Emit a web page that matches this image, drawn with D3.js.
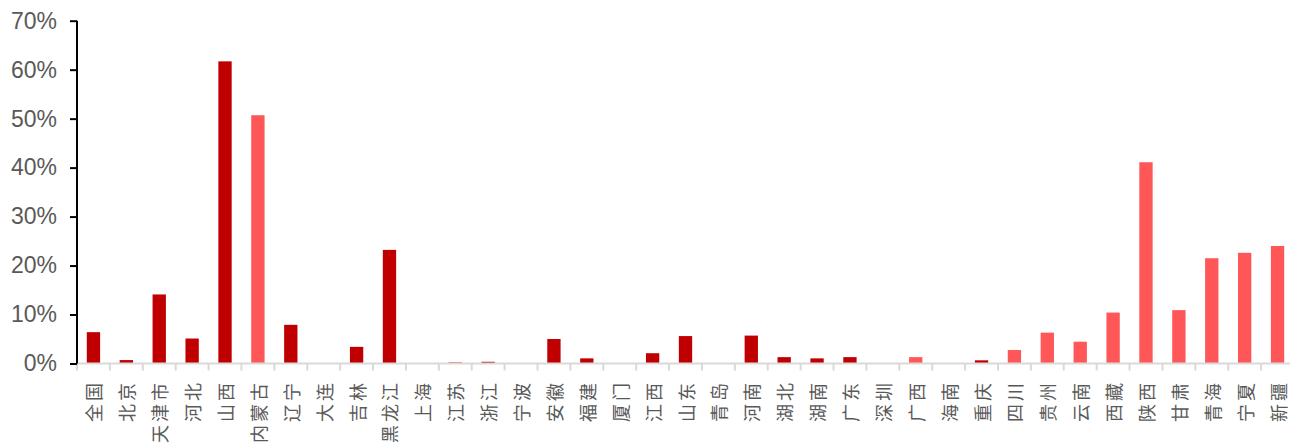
<!DOCTYPE html>
<html>
<head>
<meta charset="utf-8">
<script src="https://cdn.jsdelivr.net/npm/d3@7"></script>
<style>
  html, body { margin: 0; padding: 0; background: #fff; }
  svg { display: block; }
</style>
</head>
<body>
<svg id="chart" width="1290" height="448"></svg>
<script>
// Regions along the x axis
const categories = ["全国","北京","天津市","河北","山西","内蒙古","辽宁","大连","吉林","黑龙江",
  "上海","江苏","浙江","宁波","安徽","福建","厦门","江西","山东","青岛",
  "河南","湖北","湖南","广东","深圳","广西","海南","重庆","四川","贵州",
  "云南","西藏","陕西","甘肃","青海","宁夏","新疆"];

// Share for each region, in percent
const values = [6.4, 0.7, 14.1, 5.1, 61.7, 50.7, 7.9, 0, 3.4, 23.2,
  0, 0.3, 0.35, 0.1, 5.0, 1.05, 0, 2.1, 5.6, 0,
  5.7, 1.3, 1.05, 1.3, 0, 1.3, 0.1, 0.65, 2.75, 6.3,
  4.45, 10.4, 41.1, 10.9, 21.5, 22.6, 24.0];

// Group of each region: "e" = eastern / central, "w" = western
const groups = ["e","e","e","e","e","w","e","e","e","e",
  "e","w","e","w","e","e","e","e","e","e",
  "e","e","e","e","e","w","w","e","w","w",
  "w","w","w","w","w","w","w"];

const yTicks = [0, 10, 20, 30, 40, 50, 60, 70];
const groupColors = { e: "#C00000", w: "#FF5757" };

const svg = d3.select("#chart");
const plotLeft = 77, plotRight = 1294, plotTop = 20.7, plotBottom = 363.5;

const x = d3.scaleBand().domain(categories).range([plotLeft, plotRight]).paddingInner(0.595).paddingOuter(0.2975);
const xEdges = d3.scaleLinear().domain([0, categories.length]).range([plotLeft, plotRight]);
const y = d3.scaleLinear().domain([0, 70]).range([plotBottom, plotTop]);

// Bars
svg.append("g").selectAll("rect")
  .data(categories)
  .join("rect")
  .attr("x", d => x(d))
  .attr("width", x.bandwidth())
  .attr("y", (d, i) => y(values[i]))
  .attr("height", (d, i) => plotBottom - y(values[i]))
  .attr("fill", (d, i) => groupColors[groups[i]]);

// X axis: light grey baseline with ticks at category boundaries
const xAxis = svg.append("g");
xAxis.append("line")
  .attr("x1", plotLeft).attr("x2", plotRight)
  .attr("y1", plotBottom).attr("y2", plotBottom)
  .attr("stroke", "#D9D9D9").attr("stroke-width", 2);
xAxis.selectAll("line.tk")
  .data(d3.range(categories.length + 1))
  .join("line")
  .attr("class", "tk")
  .attr("x1", d => xEdges(d)).attr("x2", d => xEdges(d))
  .attr("y1", plotBottom).attr("y2", plotBottom + 7)
  .attr("stroke", "#D9D9D9").attr("stroke-width", 2);

// Category labels, rotated to read bottom-to-top
xAxis.selectAll("text")
  .data(categories)
  .join("text")
  .attr("transform", d => `translate(${x(d) + x.bandwidth() / 2},${plotBottom + 16.5}) rotate(-90)`)
  .attr("text-anchor", "end")
  .attr("dominant-baseline", "central")
  .attr("font-family", "'Noto Sans CJK SC', sans-serif")
  .attr("font-size", 18)
  .attr("letter-spacing", 3)
  .attr("fill", "#595959")
  .text(d => d);

// Y axis
const yAxis = svg.append("g")
  .attr("transform", `translate(${plotLeft},0)`)
  .call(d3.axisLeft(y).tickValues(yTicks).tickFormat(d => d + "%").tickSize(7).tickPadding(13));
yAxis.select(".domain").attr("stroke", "#000").attr("stroke-width", 2)
  .attr("d", `M0,${plotTop}V${plotBottom}`);
yAxis.selectAll(".tick line").attr("stroke", "#000").attr("stroke-width", 2);
yAxis.selectAll(".tick text")
  .attr("font-family", "'Liberation Sans', Arial, sans-serif")
  .attr("font-size", 23)
  .attr("fill", "#595959");
</script>
</body>
</html>
